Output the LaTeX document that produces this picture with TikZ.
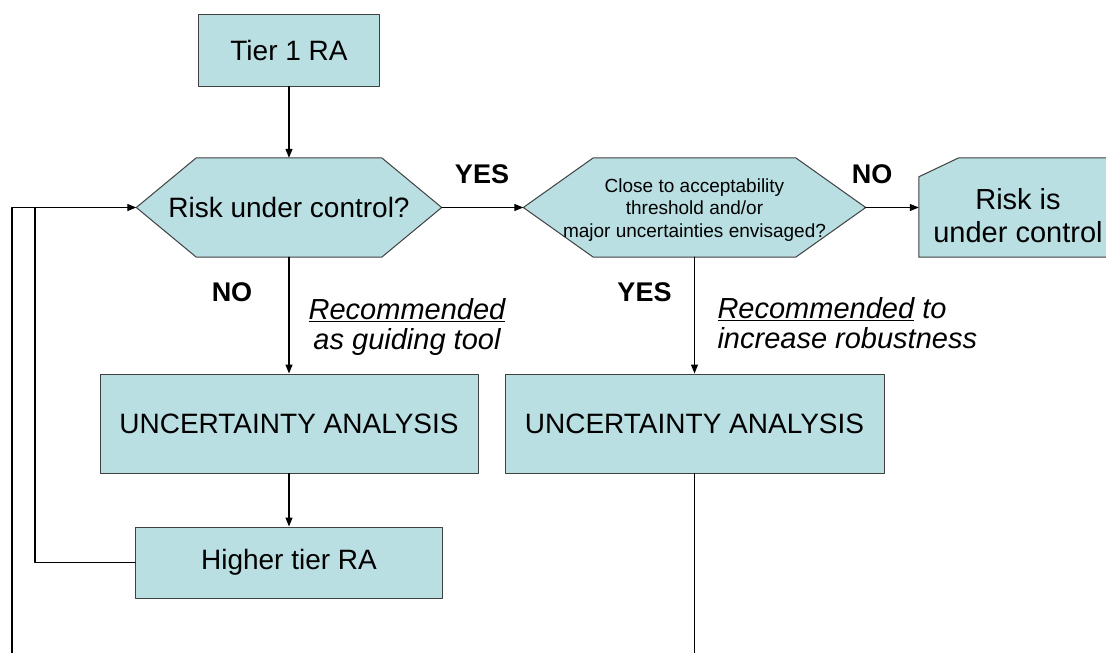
\documentclass[tikz,border=0pt]{standalone}
\usepackage{fontspec}
\setmainfont{Liberation Sans}
\usepackage{tikz}
\usetikzlibrary{arrows.meta}
\usetikzlibrary{backgrounds}
\definecolor{boxfill}{RGB}{185,223,227}
\begin{document}
\begin{tikzpicture}[line cap=round,line join=round,>={Triangle[length=9pt,width=7pt]},x=1pt,y=-1pt,
  box/.style={draw=black!75,line width=1pt,fill=boxfill,inner sep=0pt,font=\fontsize{28}{32}\selectfont},
  hexnode/.style={inner sep=0pt,align=center},
  outline/.style={draw=black!75,line width=1pt,fill=boxfill},
  yesno/.style={font=\fontsize{27}{30}\selectfont\bfseries},
  hint/.style={font=\fontsize{29}{30.5}\selectfont\itshape},
  wire/.style={line width=1.2pt}]
\useasboundingbox (0,0) rectangle (1106,653);
\clip (0,0) rectangle (1106,653);
\node[box,minimum width=181,minimum height=72] (tier1) at (289,50) {Tier 1 RA};
\node[hexnode,minimum width=305,minimum height=99,font=\fontsize{28}{32}\selectfont] (risk) at (289,207.5) {Risk under control?};
\node[hexnode,minimum width=342,minimum height=99,text height=63,font=\fontsize{19}{22.5}\selectfont] (close) at (694.5,207.5) {Close to acceptability\\threshold and/or\\major uncertainties envisaged?};
\node[hexnode,minimum width=198,minimum height=99,text height=71,font=\fontsize{29}{33}\selectfont] (ctrl) at (1018,207.5) {Risk is\\under control};
\node[box,minimum width=378,minimum height=99] (ua1) at (289,423.5) {UNCERTAINTY ANALYSIS};
\node[box,minimum width=379,minimum height=99] (ua2) at (694.5,423.5) {UNCERTAINTY ANALYSIS};
\node[box,minimum width=307,minimum height=71] (higher) at (289,562.5) {Higher tier RA};
\begin{pgfonlayer}{background}
\draw[outline] (risk.west) -- ([xshift=60]risk.north west) -- ([xshift=-60]risk.north east) -- (risk.east) -- ([xshift=-60]risk.south east) -- ([xshift=60]risk.south west) -- cycle;
\draw[outline] (close.west) -- ([xshift=70]close.north west) -- ([xshift=-70]close.north east) -- (close.east) -- ([xshift=-70]close.south east) -- ([xshift=70]close.south west) -- cycle;
\draw[outline] ([yshift=-19]ctrl.north west) -- ([xshift=40]ctrl.north west) -- (ctrl.north east) -- (ctrl.south east) -- (ctrl.south west) -- cycle;
\end{pgfonlayer}
% flow
\draw[wire,->] (tier1.south) -- (risk.north);
\draw[wire,->] (risk.east) -- (close.west);
\draw[wire,->] (close.east) -- (ctrl.west);
\draw[wire,->] (risk.south) -- (ua1.north);
\draw[wire,->] (close.south) -- (ua2.north);
\draw[wire,->] (ua1.south) -- (higher.north);
% loops back
\coordinate (loopin) at (35,207.5);
\coordinate (loopout) at (12,207.5);
\coordinate (loopbot) at (12,680);
\draw[wire,->] (higher.west) -| (loopin) -- (risk.west);
\draw[wire] (ua2.south) |- (loopbot) -- (loopout) -- (loopin);
% labels
\node[yesno] (yes1) at (482,174) {YES};
\node[yesno] (no1) at (872,174) {NO};
\node[yesno] (no2) at (232,292) {NO};
\node[yesno] (yes2) at (644.5,292) {YES};
\node[hint,align=center] (hint1) at (407,327) {\underline{Recommended}\\as guiding tool};
\node[hint,align=left,anchor=west] (hint2) at (714,323) {\underline{Recommended} to\\increase robustness};
\end{tikzpicture}
\end{document}
